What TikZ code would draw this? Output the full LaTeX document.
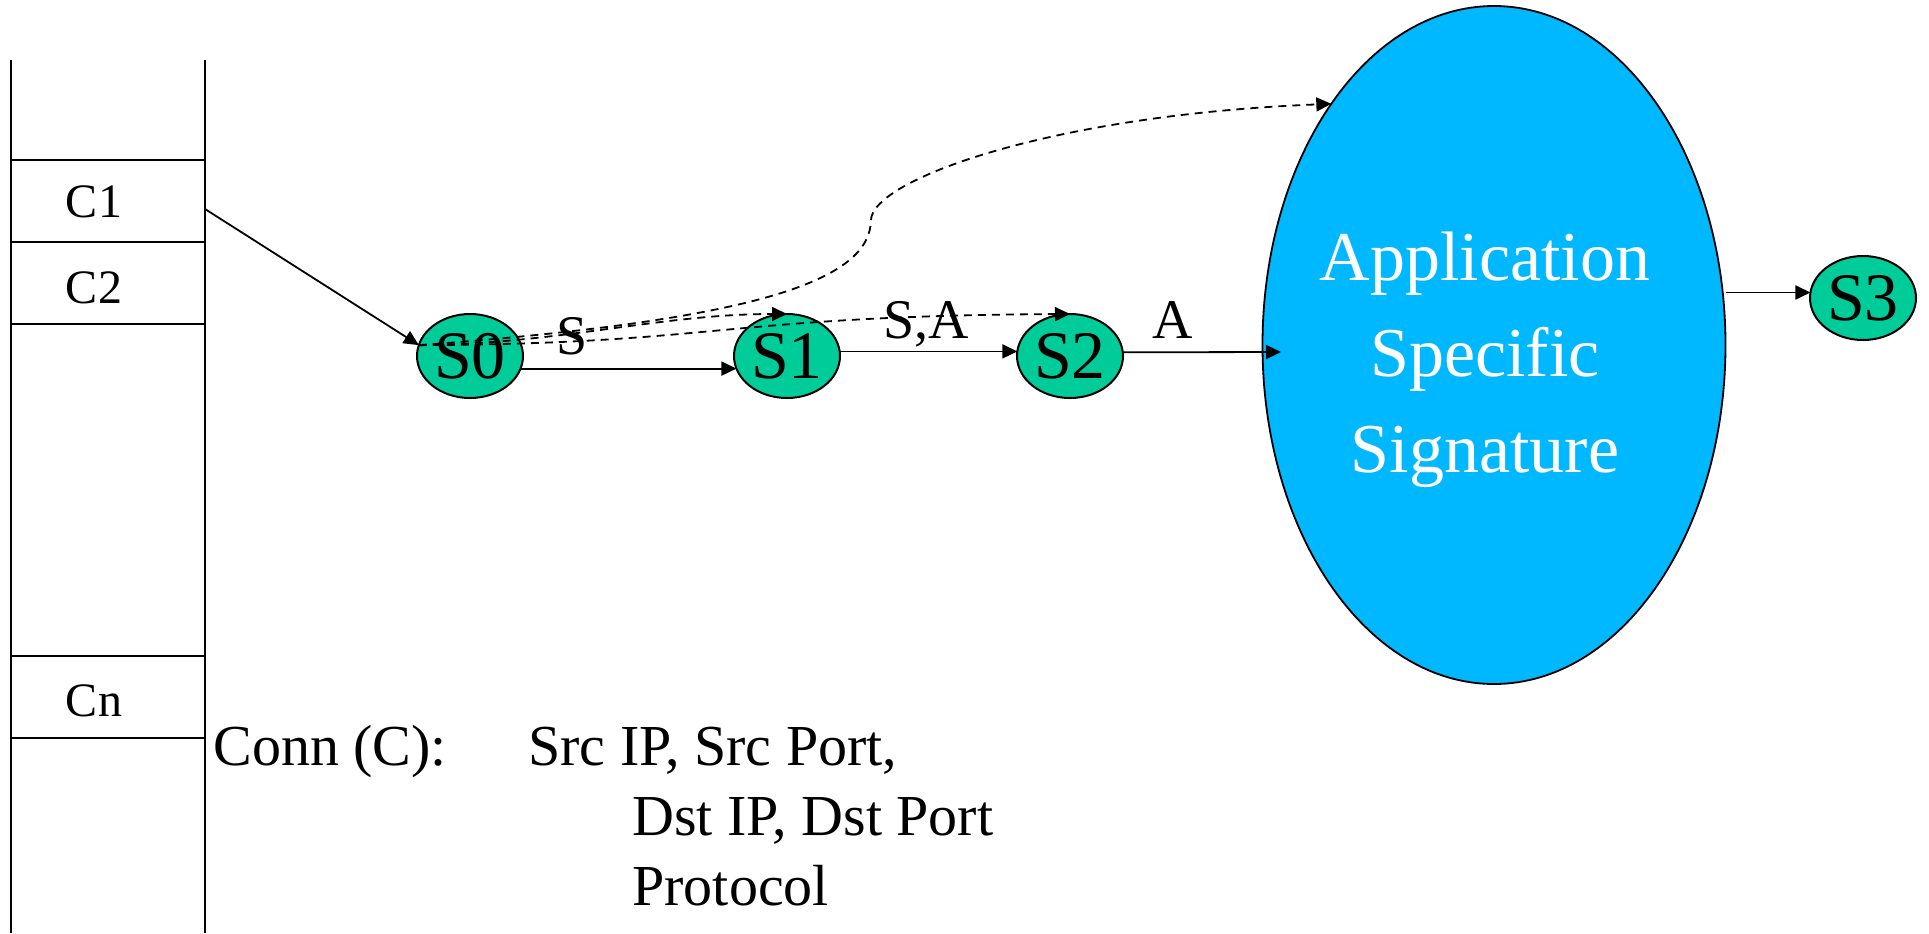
\documentclass[tikz,border=0pt]{standalone}
\usepackage{fontspec}
\setmainfont{Liberation Serif}
\usetikzlibrary{arrows.meta,shapes.geometric}
\definecolor{stategreen}{RGB}{0,204,153}
\definecolor{sigblue}{RGB}{0,184,255}
\begin{document}
\begin{tikzpicture}[x=0.5pt,y=-0.5pt,
  state/.style={ellipse,draw,line width=1pt,fill=stategreen,minimum width=53pt,
    minimum height=42pt,inner sep=0pt,outer sep=0pt,font=\fontsize{34}{34}\selectfont},
  arr/.style={-{Triangle[length=7.5pt,width=7pt]},line width=0.9pt},
  darr/.style={arr,dash pattern=on 4pt off 3pt},
  rule/.style={line width=1pt},
  cell/.style={anchor=base,font=\fontsize{24}{24}\selectfont,inner sep=0pt},
  edgelbl/.style={anchor=base,font=\fontsize{28}{28}\selectfont,inner sep=0pt},
  conn/.style={anchor=base west,font=\fontsize{29}{29}\selectfont,inner sep=0pt}]
\useasboundingbox (0,0) rectangle (1929,933);

% connection table
\draw[rule] (11,60) -- (11,933) (205,60) -- (205,933);
\foreach \y in {160,242,324,656,738} \draw[rule] (11,\y) -- (205,\y);
\node[cell] (C1) at (94,217) {C1};
\node[cell] (C2) at (94,303) {C2};
\node[cell] (Cn) at (94,716) {Cn};
\coordinate (c1port) at (205,209);

% states
\node[state] (S0) at (470,356) {S0};
\node[state] (S1) at (787,356) {S1};
\node[state] (S2) at (1070,356) {S2};
\node[state] (S3) at (1863,298) {S3};
\node[ellipse,draw,line width=0.9pt,fill=sigblue,minimum width=231.5pt,
  minimum height=339pt,inner sep=0pt,outer sep=0pt] (Sig) at (1494,345) {};
\node[align=center,text=white,font=\fontsize{35}{48}\selectfont] (sigtext)
  at (1485,360) {Application\\Specific\\Signature};

% transitions
\coordinate (sigin) at (1281,352);
\draw[arr] (c1port) -- (S0.168);
\draw[arr] (S0.-14.6) -- (S1.194.6);
\draw[arr] (S1.5) -- (S2.175);
\draw[arr] (S2.4) -- (sigin);
\draw[arr] (Sig.east |- S3.174) -- (S3.174);

% alternative paths
\coordinate (bend) at (871,220);
\draw[darr] (S0.168) .. controls (560,344) and (660,314) .. (S1.north);
\draw[darr] (S0.168) .. controls (720,344) and (720,316) .. (S2.north);
\draw[darr] (S0.168) .. controls (760,320) and (870,280) .. (bend)
  .. controls (872,180) and (1050,115) .. (Sig.124.8);

% transition labels
\node[edgelbl] (lS) at (572,354) {S};
\node[edgelbl] (lSA) at (926,338) {S,A};
\node[edgelbl] (lA) at (1173,338) {A};

% connection key
\node[conn] (connlbl) at (213,765) {Conn (C):};
\node[conn] (f1) at (528,765) {Src IP, Src Port,};
\node[conn] (f2) at (632,835) {Dst IP, Dst Port};
\node[conn] (f3) at (632,905) {Protocol};
\end{tikzpicture}
\end{document}
